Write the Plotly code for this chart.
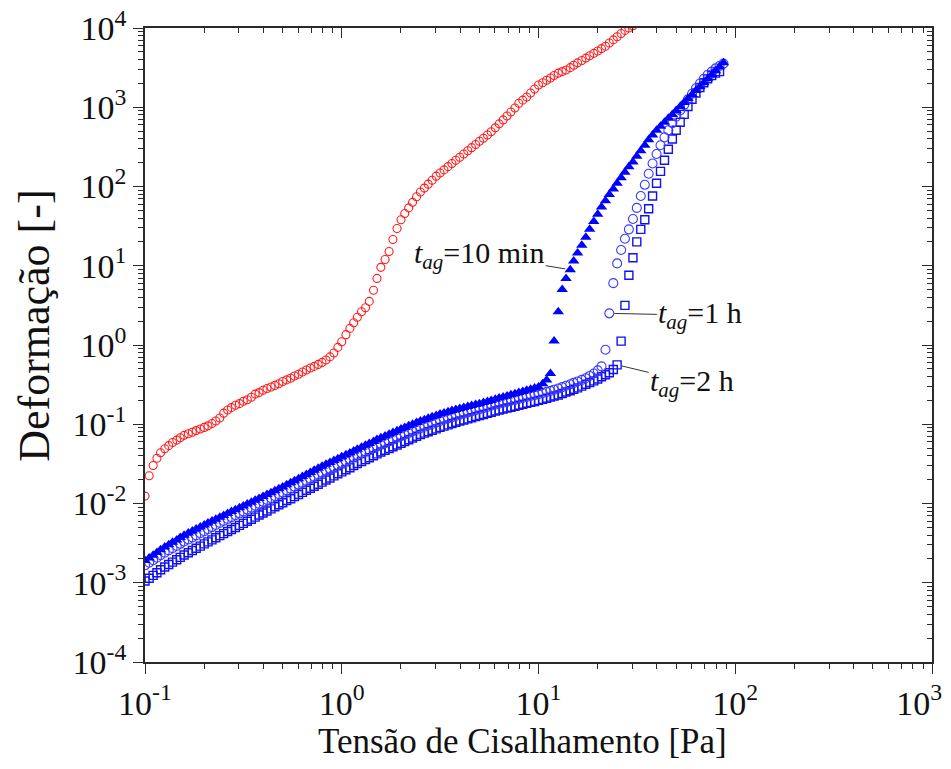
import math
import plotly.graph_objects as go

# Applied shear stress [Pa] (logarithmic ramp, shared by all tests)
STRESS = [
    0.100, 0.105, 0.110, 0.115, 0.120, 0.126, 0.132, 0.138, 0.145, 0.151,
    0.158, 0.166, 0.174, 0.182, 0.191, 0.200, 0.209, 0.219, 0.229, 0.240,
    0.251, 0.263, 0.275, 0.288, 0.302, 0.316, 0.331, 0.347, 0.363, 0.380,
    0.398, 0.417, 0.437, 0.457, 0.479, 0.501, 0.525, 0.550, 0.575, 0.603,
    0.631, 0.661, 0.692, 0.724, 0.759, 0.794, 0.832, 0.871, 0.912, 0.955,
    1.00, 1.05, 1.10, 1.15, 1.20, 1.26, 1.32, 1.38, 1.45, 1.51,
    1.58, 1.66, 1.74, 1.82, 1.91, 2.00, 2.09, 2.19, 2.29, 2.40,
    2.51, 2.63, 2.75, 2.88, 3.02, 3.16, 3.31, 3.47, 3.63, 3.80,
    3.98, 4.17, 4.37, 4.57, 4.79, 5.01, 5.25, 5.50, 5.75, 6.03,
    6.31, 6.61, 6.92, 7.24, 7.59, 7.94, 8.32, 8.71, 9.12, 9.55,
    10.0, 10.5, 11.0, 11.5, 12.0, 12.6, 13.2, 13.8, 14.5, 15.1,
    15.8, 16.6, 17.4, 18.2, 19.1, 20.0, 20.9, 21.9, 22.9, 24.0,
    25.1, 26.3, 27.5, 28.8, 30.2, 31.6, 33.1, 34.7, 36.3, 38.0,
    39.8, 41.7, 43.7, 45.7, 47.9, 50.1, 52.5, 55.0, 57.5, 60.3,
    63.1, 66.1, 69.2, 72.4, 75.9, 79.4, 83.2, 87.1,
]

# Strain of the reference sample (red open circles)
STRAIN_RED = [
    0.0124, 0.0224, 0.0302, 0.0372, 0.0437, 0.0490, 0.0537, 0.0589, 0.0631, 0.0676,
    0.0724, 0.0759, 0.0794, 0.0832, 0.0871, 0.0912, 0.0955, 0.102, 0.110, 0.120,
    0.138, 0.151, 0.162, 0.174, 0.182, 0.195, 0.204, 0.219, 0.240, 0.251,
    0.269, 0.282, 0.295, 0.309, 0.324, 0.347, 0.363, 0.380, 0.407, 0.427,
    0.457, 0.484, 0.513, 0.537, 0.569, 0.603, 0.646, 0.708, 0.794, 0.933,
    1.10, 1.35, 1.62, 1.91, 2.24, 2.63, 2.95, 3.55, 4.90, 6.92,
    9.55, 12.0, 15.1, 21.4, 29.5, 38.0, 45.7, 53.7, 63.1, 74.1,
    85.1, 95.5, 107, 120, 135, 148, 162, 178, 195, 214,
    234, 257, 282, 309, 339, 372, 407, 447, 490, 550,
    617, 692, 776, 871, 977, 1122, 1230, 1349, 1514, 1698,
    1905, 2042, 2188, 2344, 2512, 2692, 2818, 2951, 3162, 3388,
    3631, 3890, 4169, 4467, 4786, 5129, 5495, 5888, 6457, 7079,
    7762, 8511, 9333, 10000, 10700,
]

# Strain after 10 min of rest (filled triangles)
STRAIN_10MIN = [
    0.00191, 0.00206, 0.00223, 0.00241, 0.00261, 0.00282, 0.00302, 0.00324, 0.00347, 0.00372,
    0.00398, 0.00423, 0.00449, 0.00476, 0.00506, 0.00537, 0.00568, 0.00600, 0.00634, 0.00670,
    0.00708, 0.00748, 0.00791, 0.00836, 0.00883, 0.00933, 0.00986, 0.0104, 0.0110, 0.0116,
    0.0123, 0.0130, 0.0137, 0.0145, 0.0153, 0.0162, 0.0172, 0.0183, 0.0194, 0.0206,
    0.0219, 0.0232, 0.0247, 0.0262, 0.0278, 0.0295, 0.0312, 0.0330, 0.0348, 0.0368,
    0.0389, 0.0411, 0.0435, 0.0459, 0.0485, 0.0513, 0.0542, 0.0573, 0.0605, 0.0640,
    0.0676, 0.0711, 0.0748, 0.0787, 0.0828, 0.0871, 0.0912, 0.0955, 0.100, 0.105,
    0.110, 0.114, 0.119, 0.124, 0.129, 0.135, 0.139, 0.144, 0.149, 0.153,
    0.158, 0.163, 0.167, 0.172, 0.177, 0.182, 0.188, 0.194, 0.200, 0.207,
    0.214, 0.221, 0.228, 0.236, 0.243, 0.251, 0.259, 0.268, 0.277, 0.286,
    0.295, 0.324, 0.363, 0.437, 1.12, 2.63, 5.01, 6.92, 8.91, 11.5,
    14.5, 18.2, 22.9, 28.8, 36.3, 44.7, 55.0, 66.1, 79.4, 93.3,
    110, 129, 151, 178, 204, 240, 282, 331, 389, 447,
    513, 575, 646, 724, 813, 912, 1023, 1148, 1288, 1445,
    1622, 1820, 2042, 2291, 2570, 2884, 3236, 3631,
]

# Strain after 1 h of rest (open circles)
STRAIN_1H = [
    0.00166, 0.00179, 0.00192, 0.00207, 0.00223, 0.00240, 0.00256, 0.00273, 0.00291, 0.00310,
    0.00331, 0.00352, 0.00373, 0.00396, 0.00421, 0.00447, 0.00474, 0.00504, 0.00535, 0.00568,
    0.00603, 0.00637, 0.00673, 0.00711, 0.00752, 0.00794, 0.00840, 0.00887, 0.00938, 0.00991,
    0.0105, 0.0111, 0.0117, 0.0124, 0.0131, 0.0138, 0.0146, 0.0154, 0.0163, 0.0172,
    0.0182, 0.0193, 0.0205, 0.0218, 0.0231, 0.0245, 0.0259, 0.0274, 0.0290, 0.0306,
    0.0324, 0.0342, 0.0361, 0.0382, 0.0404, 0.0427, 0.0449, 0.0472, 0.0497, 0.0522,
    0.0550, 0.0578, 0.0608, 0.0640, 0.0673, 0.0708, 0.0741, 0.0776, 0.0813, 0.0851,
    0.0891, 0.0929, 0.0968, 0.101, 0.105, 0.110, 0.114, 0.118, 0.122, 0.127,
    0.132, 0.136, 0.141, 0.145, 0.150, 0.155, 0.160, 0.165, 0.171, 0.176,
    0.182, 0.187, 0.192, 0.198, 0.203, 0.209, 0.215, 0.221, 0.227, 0.233,
    0.240, 0.248, 0.256, 0.264, 0.273, 0.282, 0.294, 0.306, 0.319, 0.333,
    0.347, 0.363, 0.380, 0.407, 0.437, 0.479, 0.537, 0.871, 2.51, 6.03,
    10.7, 15.8, 21.9, 28.8, 38.9, 53.7, 75.9, 105, 145, 195,
    257, 331, 417, 513, 631, 759, 912, 1072, 1259, 1479,
    1738, 1995, 2291, 2570, 2818, 3090, 3311, 3548,
]

# Strain after 2 h of rest (open squares)
STRAIN_2H = [
    0.00105, 0.00114, 0.00124, 0.00134, 0.00146, 0.00158, 0.00170, 0.00182, 0.00195, 0.00209,
    0.00224, 0.00239, 0.00255, 0.00272, 0.00290, 0.00309, 0.00328, 0.00348, 0.00370, 0.00393,
    0.00417, 0.00443, 0.00470, 0.00499, 0.00530, 0.00562, 0.00597, 0.00634, 0.00673, 0.00715,
    0.00759, 0.00805, 0.00855, 0.00908, 0.00964, 0.0102, 0.0109, 0.0115, 0.0122, 0.0130,
    0.0138, 0.0147, 0.0156, 0.0165, 0.0175, 0.0186, 0.0198, 0.0210, 0.0223, 0.0237,
    0.0251, 0.0267, 0.0283, 0.0301, 0.0319, 0.0339, 0.0358, 0.0378, 0.0400, 0.0423,
    0.0447, 0.0470, 0.0494, 0.0520, 0.0547, 0.0575, 0.0605, 0.0637, 0.0670, 0.0705,
    0.0741, 0.0773, 0.0805, 0.0840, 0.0875, 0.0912, 0.0946, 0.0982, 0.102, 0.106,
    0.110, 0.113, 0.117, 0.121, 0.125, 0.129, 0.133, 0.137, 0.142, 0.147,
    0.151, 0.156, 0.160, 0.164, 0.169, 0.174, 0.179, 0.184, 0.189, 0.194,
    0.200, 0.206, 0.213, 0.220, 0.227, 0.234, 0.244, 0.255, 0.265, 0.277,
    0.288, 0.303, 0.319, 0.336, 0.353, 0.372, 0.398, 0.422, 0.447, 0.490,
    0.562, 1.12, 3.16, 7.59, 12.6, 20.0, 28.8, 38.0, 52.5, 75.9,
    110, 155, 214, 295, 398, 513, 646, 813, 1023, 1259,
    1514, 1778, 2042, 2291, 2512, 2692, 2818,
]

X_TICKS = [0.1, 1, 10, 100, 1000]
# the last label is padded on the right so it stays inside the page
X_TICK_TEXT = ["10<sup>-1</sup>", "10<sup>0</sup>", "10<sup>1</sup>", "10<sup>2</sup>",
               "10<sup>3</sup>\u00a0\u00a0\u00a0"]
Y_TICKS = [1e-4, 1e-3, 1e-2, 1e-1, 1, 10, 100, 1000, 10000]
Y_TICK_TEXT = ["10<sup>-4</sup>", "10<sup>-3</sup>", "10<sup>-2</sup>", "10<sup>-1</sup>",
               "10<sup>0</sup>", "10<sup>1</sup>", "10<sup>2</sup>", "10<sup>3</sup>", "10<sup>4</sup>"]

# index of the point each label points at
LABEL_10MIN, LABEL_1H, LABEL_2H = 108, 118, 120

FONT = "Liberation Serif, Times New Roman, serif"
AXIS_COLOR = "#2a2a2a"
TEXT_COLOR = "#111111"

fig = go.Figure()

fig.add_trace(go.Scatter(
    x=STRESS[:len(STRAIN_RED)], y=STRAIN_RED, mode="markers", name="ref",
    marker=dict(symbol="circle-open", size=8, color="#ff1a1a", line=dict(width=1.1)),
))
fig.add_trace(go.Scatter(
    x=STRESS[:len(STRAIN_2H)], y=STRAIN_2H, mode="markers", name="2 h",
    marker=dict(symbol="square-open", size=8, color="#1010f0", line=dict(width=1.4)),
))
fig.add_trace(go.Scatter(
    x=STRESS[:len(STRAIN_1H)], y=STRAIN_1H, mode="markers", name="1 h",
    marker=dict(symbol="circle-open", size=9, color="#3a3aff", line=dict(width=1.1)),
))
fig.add_trace(go.Scatter(
    x=STRESS[:len(STRAIN_10MIN)], y=STRAIN_10MIN, mode="markers", name="10 min",
    marker=dict(symbol="triangle-up", size=10, color="#0000ff", line=dict(width=0)),
))
# invisible trace that anchors the mirrored top/right axes
fig.add_trace(go.Scatter(
    x=STRESS[:1], y=STRAIN_RED[:1], xaxis="x2", yaxis="y2", mode="markers",
    marker=dict(opacity=0), hoverinfo="skip", showlegend=False,
))

tick_font = dict(family=FONT, size=34, color=TEXT_COLOR)
minor_out = dict(ticks="outside", ticklen=5, tickwidth=1.2, tickcolor=AXIS_COLOR, dtick="D1", showgrid=False)
minor_in = dict(ticks="inside", ticklen=5, tickwidth=1.2, tickcolor=AXIS_COLOR, dtick="D1", showgrid=False)

common = dict(type="log", showgrid=False, zeroline=False, showline=True, linecolor=AXIS_COLOR,
              linewidth=1.6, tickwidth=1.4, tickcolor=AXIS_COLOR, ticklen=10, automargin=False)

fig.update_layout(
    width=951, height=769,
    margin=dict(l=145, r=19, t=28, b=107, autoexpand=False),
    paper_bgcolor="white", plot_bgcolor="white",
    showlegend=False,
    font=dict(family=FONT, color=TEXT_COLOR),
    xaxis=dict(range=[-1, 3], tickmode="array", tickvals=X_TICKS, ticktext=X_TICK_TEXT,
               ticks="outside", tickfont=tick_font, minor=minor_out,
               ticklabeloverflow="allow", **common),
    yaxis=dict(range=[-4, 4], tickmode="array", tickvals=Y_TICKS, ticktext=Y_TICK_TEXT,
               ticks="outside", tickfont=tick_font, minor=minor_out,
               ticklabeloverflow="allow", **common),
    xaxis2=dict(range=[-1, 3], overlaying="x", side="top", anchor="y", tickmode="array",
                tickvals=X_TICKS, ticks="inside", showticklabels=False, minor=minor_in, **common),
    yaxis2=dict(range=[-4, 4], overlaying="y", side="right", anchor="x", tickmode="array",
                tickvals=Y_TICKS, ticks="inside", showticklabels=False, minor=minor_in, **common),
)

label_font = dict(family=FONT, size=30, color=TEXT_COLOR)
labels = [
    ("<i>t</i><sub><i>ag</i></sub>=10 min", STRESS[LABEL_10MIN], STRAIN_10MIN[LABEL_10MIN], -91, -15),
    ("<i>t</i><sub><i>ag</i></sub>=1 h", STRESS[LABEL_1H], STRAIN_1H[LABEL_1H], 91, 2),
    ("<i>t</i><sub><i>ag</i></sub>=2 h", STRESS[LABEL_2H], STRAIN_2H[LABEL_2H], 75, 18),
]
for text, xv, yv, ax, ay in labels:
    # annotation positions on log axes are given in log10 units
    fig.add_annotation(x=math.log10(xv), y=math.log10(yv), xref="x", yref="y", text=text,
                       showarrow=True, arrowhead=0, arrowwidth=1, arrowcolor="#333333",
                       ax=ax, ay=ay, standoff=5, font=label_font)

fig.add_annotation(text="Tensão de Cisalhamento [Pa]", xref="paper", yref="paper",
                   x=0.48, y=-0.126, showarrow=False, xanchor="center", yanchor="middle",
                   font=dict(family=FONT, size=35, color=TEXT_COLOR))
fig.add_annotation(text="Deformação [-]", xref="paper", yref="paper",
                   x=-0.14, y=0.53, showarrow=False, xanchor="center", yanchor="middle",
                   textangle=-90, font=dict(family=FONT, size=44, color=TEXT_COLOR))

fig.write_html("out.html")
